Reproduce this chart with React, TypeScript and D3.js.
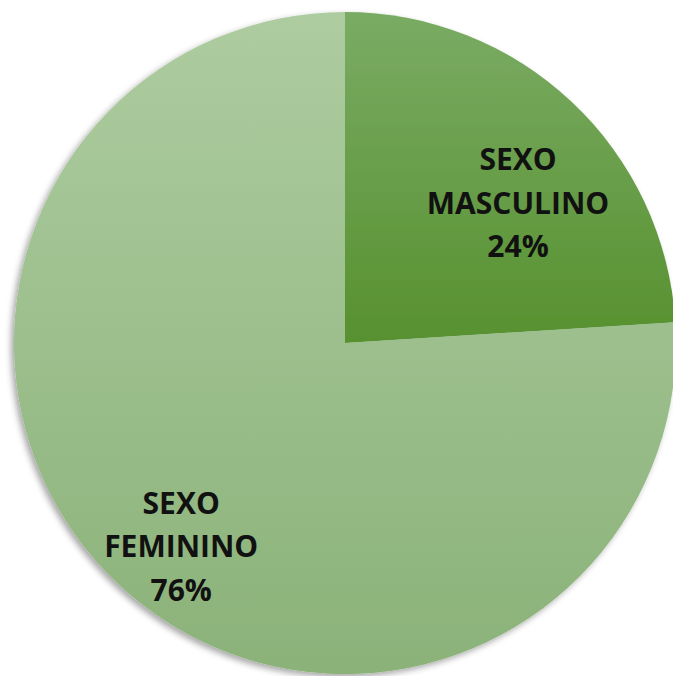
import React from "react";
import * as d3 from "d3";

// Data
const categories = ["SEXO MASCULINO", "SEXO FEMININO"];
const values = [24, 76];
const labelLines = [
  ["SEXO", "MASCULINO", "24%"],
  ["SEXO", "FEMININO", "76%"],
];
const gradients = [
  ["#7aab64", "#57912f"],
  ["#adcca0", "#8bb279"],
];

const W = 673;
const H = 676;
const cx = 345;
const cy = 343;
const radius = 331;

const App = () => {
  const pie = d3
    .pie<number>()
    .sort(null)
    .value((d) => d);
  const arcs = pie(values);
  const arc = d3.arc<d3.PieArcDatum<number>>().innerRadius(0).outerRadius(radius);

  // label position: angle/radius tweaks relative to slice middle
  const labelArc = [
    { r: 222, shift: 8 * (Math.PI / 180) },
    { r: 262, shift: -4.5 * (Math.PI / 180) },
  ];

  return (
    <svg
      width={W}
      height={H}
      style={{ position: "absolute", left: 0, top: 0, background: "#fff" }}
    >
      <defs>
        {gradients.map((g, i) => (
          <linearGradient key={i} id={`grad${i}`} x1="0" y1="0" x2="0" y2="1">
            <stop offset="0%" stopColor={g[0]} />
            <stop offset="100%" stopColor={g[1]} />
          </linearGradient>
        ))}
        <filter id="shadow" x="-10%" y="-10%" width="120%" height="120%">
          <feDropShadow dx={-3} dy={3} stdDeviation={3} floodColor="#000" floodOpacity={0.35} />
        </filter>
      </defs>
      <g transform={`translate(${cx},${cy})`} filter="url(#shadow)">
        {arcs.map((a, i) => (
          <path key={categories[i]} d={arc(a) || ""} fill={`url(#grad${i})`} />
        ))}
      </g>
      <g transform={`translate(${cx},${cy})`}>
        {arcs.map((a, i) => {
          const mid = (a.startAngle + a.endAngle) / 2 + labelArc[i].shift;
          const x = labelArc[i].r * Math.sin(mid);
          const y = -labelArc[i].r * Math.cos(mid);
          return (
            <text
              key={categories[i]}
              textAnchor="middle"
              fontFamily="'Open Sans', sans-serif"
              fontWeight="bold"
              fontSize={30}
              fill="#111"
            >
              {labelLines[i].map((l, j) => (
                <tspan key={j} x={x} y={y + (j - 1) * 43.5 + 10}>
                  {l}
                </tspan>
              ))}
            </text>
          );
        })}
      </g>
    </svg>
  );
};

export default App;
